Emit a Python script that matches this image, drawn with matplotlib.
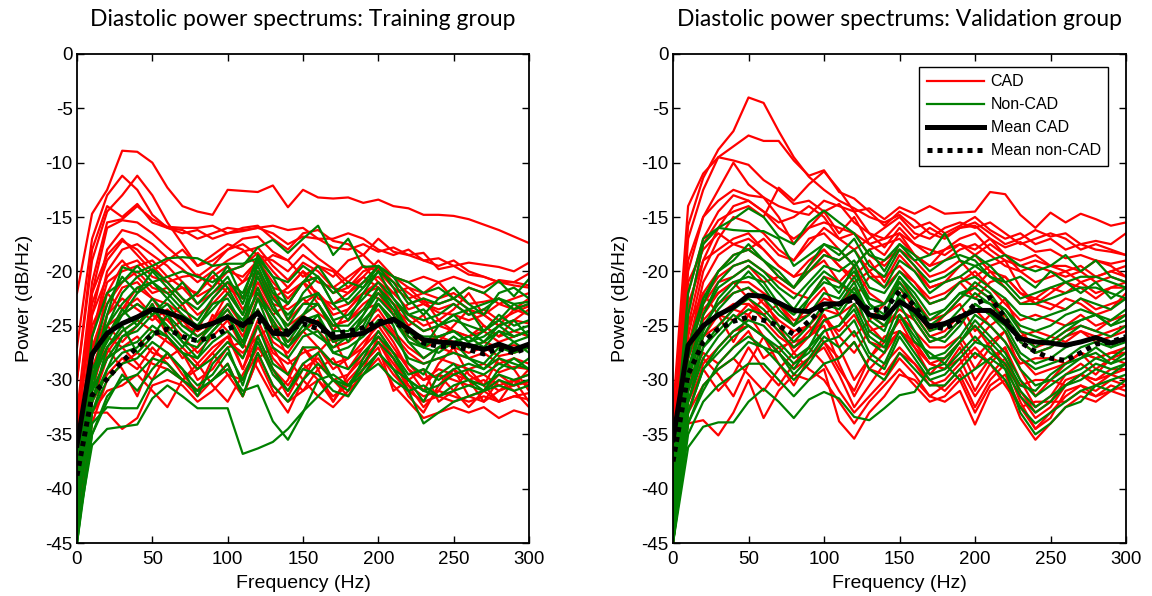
import matplotlib
matplotlib.use("Agg")
import matplotlib.pyplot as plt

plt.rcParams['axes.unicode_minus'] = False
plt.rcParams['font.family'] = ['Liberation Sans', 'DejaVu Sans']

freq = list(range(0, 301, 10))

train_cad = [
    [-22,-14.7,-12.5,-8.9,-9.0,-10,-12.3,-14,-14.5,-14.8,-12.5,-12.6,-12.7,-12.1,-14.1,-12.5,-13.2,-13.3,-13.2,-13.7,-13.4,-14,-14.2,-14.8,-14.8,-14.9,-15.2,-15.7,-16.2,-16.8,-17.4],
    [-27,-17,-13,-11.2,-12.5,-14.8,-16,-16.5,-16.2,-17,-16.5,-16.3,-16.0,-16.5,-17.5,-16.8,-17,-17.8,-18,-17.5,-18.2,-17.8,-18.5,-19,-18.8,-19.5,-19.2,-19.4,-19.6,-20,-19.2],
    [-30,-19,-14.5,-13,-11.2,-13,-15.5,-17.5,-19.5,-19,-18,-17.5,-18.5,-19,-20,-18.5,-19.5,-20.5,-19,-18.5,-19.8,-20.5,-21,-20.5,-21,-20.5,-21,-21.5,-20.8,-21,-21.3],
    [-33,-21,-15.5,-15.2,-14,-15.2,-15.9,-16,-16,-15.8,-16.5,-16,-15.8,-17,-18,-16.5,-16.2,-17.2,-17.5,-18.5,-17,-18.2,-18.5,-18.3,-19.8,-19.5,-20.3,-20.5,-21,-21.3,-21.5],
    [-35,-22,-16,-15.3,-15.5,-16.5,-17.8,-19,-20.5,-19.5,-18,-17,-16.8,-18.2,-19,-17.5,-18.8,-19.8,-21,-19.5,-20,-21.5,-22.5,-22,-22.5,-22,-23,-22.8,-22.5,-23.5,-23],
    [-38,-24,-18,-16.2,-16.6,-17.5,-18.8,-19.8,-21,-20,-19,-18.2,-17.8,-19.5,-20.8,-19.2,-20,-21.5,-22,-21,-20.5,-22,-23.5,-23,-23.8,-24,-24.5,-24,-25,-24.5,-24.8],
    [-40,-26,-20,-18,-17.5,-18.5,-19.5,-21,-22.3,-21.5,-20,-20.5,-19,-21,-22.5,-21,-22,-23.5,-23,-22,-22.5,-23.5,-24.5,-25.5,-25,-25.5,-26,-25.5,-26.5,-26,-25.5],
    [-36,-28,-22,-19.5,-19,-20.5,-21,-22.5,-24,-23,-21.5,-22.5,-20.5,-23,-23.5,-22.5,-23.8,-25,-24.5,-23.5,-23,-24.5,-26,-27,-26.5,-27,-27.5,-27,-27.8,-27.5,-27],
    [-41,-30,-24,-21.5,-21,-22.5,-23,-24,-25.5,-24.5,-23,-25,-22,-25,-25.5,-24,-25.5,-27,-26.5,-25.5,-24,-25.8,-27.5,-28.5,-28,-28.5,-29,-28.5,-29.3,-28.8,-29],
    [-42,-31,-26,-23.5,-22.5,-24,-24.5,-26,-27.5,-26,-24.5,-27,-23.5,-26.5,-27.5,-25.5,-27,-28.5,-28,-26.5,-25,-27,-29,-30,-29.5,-30,-30.5,-30,-31,-30.5,-30.2],
    [-43,-32,-27.5,-25.5,-24.5,-25.5,-26.5,-27.5,-29,-27.5,-26,-29,-25,-28,-29.5,-27,-28.5,-30,-29.5,-28,-26.5,-28.5,-30.5,-31.5,-31,-31.5,-32,-31.5,-32,-31.5,-31.8],
    [-44,-34,-30,-28.5,-27.5,-28.5,-29,-30,-31.5,-30,-28.5,-31.5,-28,-31,-33,-30,-31.5,-32.5,-31,-29.5,-28,-30.5,-32,-33.5,-33,-32.5,-33,-32.5,-33.5,-32.8,-33.2],
    [-30,-18,-14,-15,-13.8,-15.5,-16,-16.2,-17,-16.5,-16,-16.2,-16,-15.8,-16.2,-16,-17,-17,-16.5,-17,-18,-18.5,-18,-19,-19.5,-19,-20,-20.5,-21,-21,-20.2],
    [-34,-23,-19,-17.2,-18,-19.5,-21,-20.5,-20.3,-21.5,-20,-19.5,-18.3,-20,-21.5,-20,-21,-21.5,-20.5,-19.5,-21,-22,-21.5,-22.8,-23,-22.5,-23.5,-24,-23,-23.5,-24],
    [-38,-27,-23,-21,-20,-21.5,-22,-21.5,-23,-22,-21,-22.5,-20,-22,-24.5,-23,-22,-24,-23.5,-22,-21.5,-23,-24,-25,-24.5,-25.5,-26,-25,-26,-25.5,-26],
    [-40,-29,-25,-24,-23,-24,-25.5,-24.5,-26,-25,-23.5,-26,-22.5,-24.5,-26.5,-25.5,-24.5,-26.5,-26,-24.5,-23.5,-25.5,-27,-28,-27,-27.5,-28,-27.5,-28.5,-28,-28.5],
    [-42,-32,-28,-27,-26,-27.5,-28,-27,-28.5,-27,-26,-28,-24.5,-27.5,-28.5,-27.5,-27,-29,-28,-27,-25.5,-27.5,-28.5,-30,-29,-29.5,-30,-29.5,-30.5,-30,-30.5],
    [-44,-33,-33,-34.5,-33.5,-30.5,-30,-30.5,-32,-31,-29.5,-30,-27.5,-30.5,-32,-31,-30,-31.5,-30.5,-29,-27.5,-29.5,-31,-32,-31.5,-32,-31.5,-31,-32,-31.5,-31.2],
    [-39,-26,-21,-20,-19.5,-19,-20.5,-21.5,-22,-20.5,-19.5,-21,-19,-21.5,-22,-21,-20.5,-22,-21.5,-20,-19.5,-21,-22,-23,-23.5,-23,-24,-23.5,-24.5,-23.8,-23.2],
    [-41,-28,-24,-22.5,-23.5,-24.5,-23.5,-25,-25.5,-24.5,-22,-24,-21,-23.5,-25,-24,-23,-25,-24.5,-23,-22,-24,-25.5,-26.5,-26,-26.5,-27,-26.5,-27,-26.8,-27],
    [-37,-27,-25,-26.5,-25,-23,-26,-28,-27,-24,-25.5,-29,-26,-25,-28,-30,-27.5,-26,-29,-27,-24.5,-26.5,-29,-31,-28.5,-27,-29.5,-30.5,-28,-29,-31],
    [-43,-30,-27,-29,-31.5,-28,-26,-27.5,-30,-29,-27,-26.5,-29,-31.5,-30,-27,-29,-32,-30,-28.5,-27,-31,-30,-29,-32,-31,-29,-30.5,-32,-30,-29.5],
    [-39,-25,-22,-23.5,-21.5,-22.5,-24.5,-23,-25.5,-22.5,-21,-23.5,-21.5,-24,-23,-21,-23,-25.5,-23.5,-22,-21,-23,-25,-24,-26.5,-25,-23.5,-25,-26,-24.5,-23.5],
    [-41,-29,-26,-27,-28.5,-30,-27.5,-29.5,-31,-28,-26.5,-27.5,-26,-29,-31.5,-29,-28,-30,-31.5,-29,-26,-28,-30.5,-32.5,-31,-29,-30,-32,-31,-30,-32],
    [-34,-24,-20.5,-19,-20.5,-22,-21.5,-23,-22,-20.5,-22,-21,-20,-22.5,-21.5,-20,-22.5,-23,-22,-20.5,-21.5,-24,-23,-22.5,-24.5,-23.5,-22,-24,-25,-23.5,-22.5],
    [-42,-32,-29.5,-28,-29,-27,-28.5,-30,-29,-27.5,-29.5,-31.5,-28,-27,-29.5,-31,-29,-28,-30.5,-28.5,-26.5,-29,-31.5,-33,-30.5,-29,-31.5,-32,-30,-31,-32.5],
    [-36,-22,-18.5,-17,-18.5,-20,-19,-18,-19.5,-18.5,-17.5,-18,-19.5,-18.5,-19,-20.5,-19.5,-20,-21.5,-20.5,-19,-20.5,-21.5,-22,-21,-22.5,-21.5,-22,-23,-22.5,-22],
    [-44,-33,-31,-30.5,-29.5,-31,-32.5,-30,-28.5,-30.5,-32,-29.5,-27,-29,-30.5,-28.5,-30,-32,-29.5,-27.5,-26,-28,-31,-32,-29.5,-31,-32.5,-31,-29.5,-30.5,-29],
]

train_noncad = [
    [-36,-30,-26,-24,-22,-21,-20.5,-20,-20.5,-21,-20,-19.5,-17.8,-17.1,-18.3,-17,-15.8,-18.5,-17,-19.6,-19.5,-20.5,-21,-22,-21.5,-22.5,-21.5,-22,-20.9,-22.3,-20.7],
    [-38,-30,-24,-19.6,-20.1,-19.5,-18.8,-18.7,-18.8,-19.5,-19.3,-19.3,-18.8,-20.5,-21,-19.5,-20.5,-22,-21,-21.5,-20,-21,-23,-22.5,-23,-22.5,-23.5,-23,-22.5,-23,-22.8],
    [-44,-36,-34.5,-34.3,-34.1,-31.7,-30.5,-31.5,-32.6,-32.6,-32.6,-36.8,-36.3,-35.7,-34.5,-32.9,-31.5,-30,-30.5,-29.5,-28.5,-30,-31,-34,-33,-32,-31.5,-31,-30.5,-31,-30.5],
    [-45,-34,-32.5,-32.6,-32.6,-30,-29,-30,-31,-30,-29,-31,-30.5,-33.8,-35.5,-33,-30,-29.5,-30.5,-29,-27.5,-29,-30,-31,-31.5,-31,-30.5,-31,-30,-30.5,-30],
    [-42,-31,-28,-27,-26.5,-25,-26,-27.5,-29,-28,-26.5,-28,-25,-28.5,-29.5,-27,-27,-28.5,-29,-27.5,-26,-27.5,-29.5,-29,-30,-29,-28.5,-29,-28,-28.5,-29],
    [-40,-30,-27,-25.5,-24.5,-22.5,-24,-25.5,-26.5,-25,-23.5,-25.5,-21.5,-25,-26.5,-24.5,-24,-26.5,-26,-25,-22.5,-24,-26.5,-27,-27.5,-26.5,-26,-27,-25.5,-26.5,-26],
    [-43,-31,-25,-22,-20.5,-19.8,-21,-22.5,-23.5,-22,-20.5,-23,-19.5,-22.5,-24,-22.5,-22,-24.5,-24,-22.5,-21,-22.5,-24.5,-25.5,-25,-24.5,-25,-25.5,-24,-25,-24.5],
    [-41,-33,-30,-28.5,-28,-26.5,-27.5,-29,-30.5,-29.5,-27.5,-30,-26.5,-29.5,-31,-29,-29.5,-31,-31.5,-29.5,-27.5,-29,-31,-30.5,-31.5,-30.5,-30,-30.5,-29.5,-30,-29.5],
    [-39,-29,-26.5,-24,-23,-24,-22.5,-24,-25,-23.5,-22,-24,-20.5,-23.5,-25,-23,-23,-25,-25,-23.5,-21.5,-23,-25.5,-26,-26,-25.5,-26.5,-26,-25,-26,-25.5],
    [-44,-35,-31.5,-30,-29.5,-28,-28.5,-30,-31,-30,-28.5,-31.5,-27.5,-30.5,-32,-30,-28.5,-30,-30.5,-28.5,-26.5,-28,-30,-31,-30.5,-29.5,-29,-29.5,-28.5,-29,-28],
    [-37,-28,-25,-23,-21.5,-21,-22,-23.5,-24.5,-22.5,-21,-22,-19,-22,-23,-21,-20.5,-23,-22.5,-21,-19.5,-21.5,-24,-24.5,-24,-23,-24,-23.5,-22.5,-23.5,-23],
    [-42,-32,-29,-27.5,-27,-25.5,-26,-27.5,-28,-26.5,-25.5,-27,-23.5,-27,-28,-26,-25.5,-27.5,-27,-26,-24.5,-26,-28,-28.5,-28,-27.5,-28,-28.5,-27,-27.5,-27],
    [-45,-33,-29,-26,-25,-23.5,-25,-26.5,-27,-25.5,-24,-26.5,-22.5,-26,-27,-25,-26,-27,-26,-24.5,-23,-24.5,-26.5,-28,-27,-26,-27,-26.5,-25.5,-26,-25.5],
    [-38,-31,-28,-26,-25.5,-24,-23,-25,-26,-25,-23,-24.5,-22,-24,-26,-24,-23,-25.5,-25.5,-24,-22,-23.5,-25.5,-27,-26,-25.5,-26.5,-25.5,-24.5,-25.5,-25],
    [-41,-28,-23,-20.5,-22,-20,-21.5,-23,-22,-20,-21.5,-24,-19,-21.5,-24.5,-22,-20.5,-23,-24.5,-22,-20,-22.5,-24,-23.5,-25,-24,-23.5,-25.5,-24.5,-23,-24],
    [-43,-32,-27,-25,-27.5,-26,-24,-26.5,-28,-25.5,-24,-27,-22.5,-24.5,-27,-25.5,-24,-27.5,-28,-25.5,-23,-25,-28.5,-29.5,-27,-26.5,-28,-29,-27.5,-26.5,-27.5],
    [-45,-35,-32,-29.5,-31,-29,-27.5,-29,-31.5,-28.5,-27,-30.5,-26,-29,-31,-28.5,-27.5,-30,-31,-28,-25.5,-27.5,-30,-32,-29.5,-28.5,-30,-31,-29,-28,-29],
    [-39,-26,-22,-21,-19.5,-21,-22.5,-21,-23,-21.5,-19.5,-22.5,-18.5,-20.5,-23,-21,-19.5,-21.5,-23,-21.5,-19.5,-20.5,-22.5,-24,-22.5,-21.5,-23,-24,-22,-21.5,-22.5],
    [-42,-30,-26,-23.5,-25,-23,-25.5,-27,-25,-23,-22.5,-25,-20,-23,-25.5,-24,-22,-24.5,-26.5,-24,-21.5,-23.5,-26,-27,-25,-24,-25.5,-26.5,-25,-24.5,-26],
]

train_mean_cad = [-36,-27.6,-25.7,-24.8,-24.2,-23.5,-23.8,-24.3,-25.2,-24.8,-24.2,-25,-23.8,-25.7,-25.8,-24.3,-24.8,-26.1,-25.9,-25.7,-24.9,-24.4,-25.3,-26.3,-26.5,-26.6,-26.8,-27.2,-26.7,-27.2,-26.7]
train_mean_noncad = [-38.8,-31.4,-29.9,-28.3,-27,-25.8,-25.3,-26,-26.4,-26,-25.3,-24.8,-24.5,-25.5,-25.5,-24.8,-25.3,-25.8,-25.5,-25.2,-24.6,-24.6,-25.5,-26.6,-26.9,-26.9,-27.2,-27.6,-27.1,-27.5,-27]

valid_cad = [
    [-35,-15.8,-11.4,-8.8,-7.1,-4.0,-4.5,-7.1,-9.5,-11.3,-12.5,-13.5,-14.2,-15,-15.5,-14.8,-16,-15.5,-16.5,-15.8,-15,-16.2,-17,-16.5,-17.5,-17,-18,-17.5,-18,-18.2,-18.5],
    [-33,-14,-11,-9.5,-8.5,-7.5,-8,-8,-9.8,-11.2,-10.7,-12.7,-13.3,-14.5,-15.8,-14.5,-15.3,-16.5,-17,-16,-15.8,-17,-17.8,-17.3,-18.2,-18,-18.8,-18.5,-19,-19.3,-19],
    [-38,-17,-12.5,-9.5,-9.8,-10.2,-11.6,-12.5,-13.8,-13.5,-14.5,-13.8,-15.5,-16.5,-17,-15.5,-17,-16,-16.8,-16,-15.5,-16.5,-17.5,-17,-16.2,-16.8,-16.5,-17.5,-17.2,-17.5,-16.5],
    [-36,-19,-15,-13.5,-12.5,-13,-13.2,-14,-14.5,-14.8,-13.5,-14,-14.5,-14.2,-15.2,-14.1,-14.7,-14,-14.7,-14.6,-14.5,-12.7,-12.9,-14.8,-16,-14.6,-15.5,-14.7,-15.2,-15.8,-15.5],
    [-40,-20,-15,-12.5,-10,-12,-13.2,-15,-17.5,-16,-14.5,-16.5,-15,-17.5,-18.5,-16.5,-18.5,-19.5,-19,-18,-17.5,-18.5,-19.5,-20,-19.5,-20,-20.5,-20,-21,-20.5,-21],
    [-41,-24,-17.5,-15.3,-14.5,-14,-15,-12.3,-13.5,-12,-10.8,-12.5,-14.5,-16.5,-17.8,-16,-17.5,-18.5,-18,-17,-16.5,-18,-19,-19.5,-19,-19.5,-20,-19.5,-20.5,-20,-20.5],
    [-42,-26,-20,-17,-15,-15.5,-16.5,-18,-19,-17.5,-16,-17,-16.5,-18.5,-19.5,-18,-19.5,-21.5,-21,-19.5,-18.5,-20,-21.5,-23,-22.5,-23,-23.5,-22.5,-23.5,-23,-22.5],
    [-43,-27,-21,-18.5,-17.5,-17,-18,-19.5,-20.5,-20,-18.5,-19,-18,-20,-21.5,-20,-21,-23,-22.5,-21,-20,-21.5,-23,-24.5,-24,-24.5,-25,-24,-25,-24.5,-24],
    [-44,-28,-22.5,-20.5,-19.5,-19,-20,-21,-22,-22.5,-20.5,-21,-19.5,-22,-23,-21,-22.5,-24.5,-24,-22.5,-21.5,-22.5,-24.5,-26,-25.5,-26,-26.5,-25.5,-26,-25.5,-25],
    [-44,-30,-24,-22,-21,-21,-22,-23,-24.5,-24,-22.5,-23,-21.5,-24,-25,-23.5,-24.5,-26.5,-26,-24.5,-23.5,-25,-26.5,-28.5,-28,-28,-28.5,-27.5,-28,-27.5,-27.5],
    [-45,-31,-26,-24,-23,-23,-24,-25.5,-27,-26,-24.5,-25.5,-24,-26.5,-27,-25.5,-26.5,-28.5,-28,-26.5,-25,-27,-28.5,-30.5,-30,-30,-30.5,-29.5,-30,-29.5,-29],
    [-45,-33,-28.5,-27,-25.5,-25,-26,-27.5,-29,-28,-26.5,-28,-26.5,-29,-29.5,-27.5,-28.5,-30.5,-30,-28.5,-27,-28.5,-30.5,-32.5,-32,-32,-32,-31,-31.5,-31,-30.5],
    [-44,-34,-33.7,-35.1,-33,-30,-33.5,-31,-29.5,-30,-29,-33.8,-35.4,-33,-31.5,-29.5,-30,-31.5,-32,-31,-34.1,-31,-30,-33.5,-35.5,-34,-32.5,-31.5,-32,-31,-31.5],
    [-42,-30,-27.5,-28.5,-27,-25.5,-28,-27,-26.5,-26,-25,-28.5,-31.5,-29,-27.5,-25.5,-26.5,-28.5,-29,-28,-31,-28.5,-27,-31.5,-33.5,-32.5,-30.5,-29.5,-30,-29,-29],
    [-39,-27,-23,-21,-20.5,-19.5,-21,-20.5,-21.5,-20,-19,-21,-22.5,-20.5,-20.5,-19.5,-21,-22.5,-22,-21,-22.5,-21,-20.5,-22,-23,-23.5,-22.5,-23,-24,-23.5,-22],
    [-40,-25,-19,-16,-14,-13.5,-14.5,-16,-17,-16,-15.5,-16,-16.5,-17.5,-17,-16.5,-17.5,-18,-18.5,-17.5,-18,-17,-18.5,-19,-18.5,-19.5,-19.5,-20,-19,-19.5,-20.5],
    [-43,-29,-25,-24,-24.5,-23,-24.5,-26,-27,-25.5,-24,-26,-27.5,-25.5,-25,-24,-25.5,-27,-27,-26,-28,-26.5,-25.5,-28,-29.5,-29,-28.5,-27.5,-28,-27.5,-27],
    [-41,-28,-24.5,-23,-22,-21.5,-23,-24.5,-25.5,-25,-23.5,-24,-23,-25,-26.5,-24.5,-24,-26,-25.5,-24,-26.5,-25,-24,-26.5,-27.5,-27,-26,-25.5,-26.5,-26,-25.5],
    [-38,-22,-17,-14.5,-13,-13.5,-14.5,-15.5,-15,-14,-15,-17,-18,-17,-16,-15,-16.5,-17,-16,-15.5,-16,-15.5,-16.5,-17.5,-17,-16.5,-17,-18,-17.5,-18,-18.5],
    [-42,-27,-22,-20,-18.5,-18,-19,-20.5,-21.5,-19.5,-18,-19.5,-20.5,-19,-21,-18.5,-20,-21.5,-21,-20.5,-21.5,-20,-20.5,-22,-22.5,-21.5,-22,-21,-22,-21.5,-21.5],
    [-38,-25,-22,-24,-26.5,-24,-22.5,-25,-27.5,-26,-24,-27,-30,-28,-26.5,-24.5,-27,-29.5,-28,-26.5,-29,-27,-25.5,-29,-31.5,-30,-28.5,-27.5,-29,-28,-27.5],
    [-43,-31,-28,-29.5,-31.5,-28.5,-26,-28.5,-30.5,-28,-27,-29.5,-32.5,-30.5,-28.5,-27,-28.5,-30,-31,-29.5,-32.5,-30,-28.5,-32,-34.5,-33,-31.5,-30.5,-31,-30,-30.5],
    [-40,-27,-23.5,-22,-21,-22.5,-24,-23,-25,-23,-21.5,-24,-26,-24.5,-23,-21.5,-23.5,-25.5,-24,-23,-25.5,-24,-22.5,-25.5,-27,-26.5,-25.5,-25,-25.5,-24.5,-24],
    [-44,-32,-29,-31,-29.5,-27,-29,-30.5,-28.5,-27,-28.5,-31,-33,-31.5,-30,-28,-29.5,-31.5,-30.5,-29,-31.5,-29.5,-28,-31,-33,-32,-30,-29.5,-30.5,-29.5,-30],
    [-37,-21,-18,-16.5,-17.5,-18,-17,-18.5,-19,-17,-16.5,-18,-19.5,-18,-17.5,-17,-18.5,-19.5,-18,-17.5,-18.5,-17.5,-18.5,-20,-21,-20.5,-20,-21,-20.5,-20,-19.5],
    [-41,-29,-26,-25,-23.5,-24,-26,-27.5,-26,-25,-26.5,-29,-31,-28,-26,-25.5,-27,-28.5,-29,-27,-30,-28,-27,-30,-32.5,-31.5,-29.5,-28.5,-29.5,-28,-28.5],
    [-45,-33,-30.5,-29,-28,-29.5,-31,-29,-27.5,-29,-30,-32,-34,-32,-30.5,-29,-30.5,-32,-31.5,-30,-33,-30.5,-29.5,-32.5,-34.5,-33.5,-31,-30.5,-31.5,-30.5,-31],
    [-39,-23,-19,-18,-17,-16.5,-18,-19.5,-20.5,-19,-18,-19.5,-21,-20,-19,-18,-19,-20.5,-20,-19,-20.5,-19.5,-19,-21.5,-23,-22,-21,-21.5,-22.5,-21.5,-21],
]

valid_noncad = [
    [-45,-36.2,-34.3,-33.9,-33.9,-32,-30.8,-32,-33.5,-31.8,-31.1,-31.7,-33.4,-33.7,-32.6,-31.4,-31.1,-29,-28.5,-30,-29,-28,-29,-33,-35,-34,-32.5,-32,-30.5,-30,-29.5],
    [-40,-24,-17.5,-16,-15.2,-14.2,-15,-16.8,-17.5,-15.5,-14.4,-15.5,-16.5,-18.5,-19,-17.5,-18.5,-20,-19,-18.5,-19,-20.5,-21,-20.5,-21.5,-20,-21,-22,-21,-22.5,-21.5],
    [-38,-22,-17,-16,-16.2,-16.3,-16.3,-17,-19.5,-18.5,-17.5,-18,-19.5,-18,-20,-17.5,-19,-18.5,-16.5,-19,-19.5,-19,-18.5,-19.5,-20,-19.5,-18.5,-20,-19,-20.5,-21],
    [-44,-30,-24,-21.5,-20.5,-19.5,-20.5,-22,-23.5,-21.5,-20,-21,-22,-23.5,-23,-21.5,-23,-24.5,-23.5,-22,-22.5,-23,-23.5,-25.5,-26,-26.5,-25.5,-24.5,-24,-25,-24],
    [-42,-32,-27,-25,-23.5,-22.5,-23.5,-25,-26.5,-25,-23,-23.5,-21.5,-24.5,-25.5,-22,-24.5,-26.5,-26,-24.5,-23,-24,-25,-27.5,-28.5,-28,-27,-26.5,-26,-27,-26],
    [-45,-33,-29,-27,-25.5,-24.5,-25,-26.5,-28,-27,-24.5,-24,-22,-25.5,-26.5,-23,-25.5,-28,-27.5,-26,-24,-25,-26.5,-29,-30.5,-30,-29,-28,-27.5,-28.5,-27.5],
    [-43,-31,-26,-23.5,-22,-21.5,-22.5,-24,-25,-24,-22,-22.5,-20.5,-23,-24,-21,-23,-25.5,-25,-23.5,-22,-23,-24.5,-26.5,-27.5,-27,-26,-25,-25.5,-26,-25],
    [-44,-34,-30.5,-29,-28,-26.5,-27,-28.5,-30,-28.5,-26.5,-26,-24.5,-27.5,-28.5,-25.5,-27.5,-29.5,-29,-27.5,-26,-27.5,-28.5,-31,-32.5,-31.5,-30.5,-30,-29,-29.5,-28.5],
    [-41,-29,-24,-21,-19.5,-19,-20,-21.5,-22.5,-21,-19.5,-20,-19,-21.5,-22,-20,-21.5,-23,-22.5,-21,-20.5,-21.5,-22.5,-24,-24.5,-24,-23.5,-22.5,-23,-23.5,-22.5],
    [-45,-35,-32,-30.5,-29.5,-28.5,-28.5,-30,-31.5,-30,-28.5,-28,-26.5,-29,-30,-27.5,-29,-30.5,-30.5,-29,-27.5,-28.5,-30,-32.5,-34,-33,-32,-31,-30.5,-31,-30],
    [-42,-30,-25.5,-22.5,-21,-20.5,-21,-23,-24,-22.5,-21,-21.5,-20,-22.5,-23,-20.5,-22,-24,-23.5,-22,-21.5,-22.5,-23.5,-25,-25.5,-25,-24,-23.5,-24,-24.5,-23.5],
    [-44,-32,-28,-26,-24.5,-23.5,-24,-25.5,-27,-26,-23.5,-23,-21,-24,-25,-22.5,-24,-26,-26.5,-25,-23,-24,-25.5,-28,-29,-28.5,-28,-27,-26.5,-27,-26.5],
    [-40,-28,-23,-20,-18.5,-18,-19,-20,-21.5,-20,-18.5,-19,-18,-20.5,-21.5,-19,-20,-22,-21,-20.5,-19.5,-20.5,-21.5,-23,-23,-22.5,-22,-21.5,-21.5,-22,-22.5],
    [-43,-33,-29,-27.5,-26,-25,-26,-27,-28.5,-27.5,-25.5,-25,-23,-26,-27,-24,-26,-28,-28,-26.5,-24.5,-26,-27.5,-30,-31.5,-30.5,-29.5,-29,-28,-28.5,-28],
    [-42,-29,-25,-23,-21.5,-20,-21.5,-23.5,-25,-22.5,-20.5,-22,-19.5,-23,-24.5,-20.5,-22.5,-25,-24,-22.5,-21,-22,-24,-26,-27,-26,-25,-24.5,-24,-25,-24.5],
    [-44,-31,-27,-25.5,-24,-25,-26,-27.5,-29,-27,-25.5,-25,-23.5,-26.5,-27.5,-24,-26.5,-27.5,-28.5,-26.5,-25,-26.5,-28,-30.5,-31,-29.5,-28.5,-28,-27,-28,-27],
    [-41,-27,-22.5,-20,-19,-17.5,-19,-20.5,-21.5,-19.5,-17.5,-18.5,-17,-19.5,-20.5,-18,-19.5,-21,-20.5,-19.5,-18.5,-19.5,-21,-22.5,-22,-21.5,-21,-20.5,-20.5,-21,-21.5],
    [-45,-34,-31,-28.5,-27,-26,-27,-27.5,-29.5,-28,-26,-27,-25.5,-28,-29,-26,-28,-30,-29.5,-28,-26.5,-27,-29,-31.5,-33,-32,-30.5,-29.5,-28.5,-29,-28.5],
]

valid_mean_cad = [-35.5,-26.8,-25,-24,-23.3,-22.2,-22.3,-22.9,-23.6,-23.7,-23,-23,-22.3,-24,-24.3,-22.8,-23.6,-25.1,-24.8,-24.2,-23.6,-23.6,-24.7,-26.2,-26.5,-26.6,-26.8,-26.5,-26.1,-26.6,-26.2]
valid_mean_noncad = [-37.5,-29.5,-26.5,-25.3,-24.6,-24.2,-24.5,-25,-25.8,-24.6,-23.3,-23,-22.6,-23.5,-23.6,-21.8,-23.2,-25,-25.3,-24.5,-23,-22.4,-24.3,-26.5,-27.4,-28,-28.2,-27.5,-26.7,-26.5,-26]

titles = ["Diastolic power spectrums: Training group",
          "Diastolic power spectrums: Validation group"]
legend_labels = ["CAD", "Non-CAD", "Mean CAD", "Mean non-CAD"]

RED = "#ff0000"
GREEN = "#008000"

fig = plt.figure(figsize=(11.52, 5.96), dpi=100)
W, H = 1152, 596
TOP, BOT = 54, 543
ax1 = fig.add_axes([77 / W, 1 - BOT / H, (529 - 77) / W, (BOT - TOP) / H])
ax2 = fig.add_axes([673 / W, 1 - BOT / H, (1126 - 673) / W, (BOT - TOP) / H])

panels = [
    (ax1, train_cad, train_noncad, train_mean_cad, train_mean_noncad, titles[0]),
    (ax2, valid_cad, valid_noncad, valid_mean_cad, valid_mean_noncad, titles[1]),
]

for i, (ax, cad, noncad, mcad, mnon, title) in enumerate(panels):
    hc = hn = None
    for s in cad:
        hc, = ax.plot(freq, s, color=RED, lw=1.6)
    for s in noncad:
        hn, = ax.plot(freq, s, color=GREEN, lw=1.6)
    hm, = ax.plot(freq, mcad, color='black', lw=3.6)
    hd, = ax.plot(freq, mnon, color='black', lw=3.6, linestyle=(0, (1, 1)),
                  dash_capstyle='butt')
    ax.set_xlim(0, 300)
    ax.set_ylim(-45, 0)
    ax.set_xticks(range(0, 301, 50))
    ax.set_yticks(range(-45, 1, 5))
    ax.tick_params(direction='in', length=5, width=1, top=True, right=True,
                   labelsize=13.5, colors='black')
    ax.tick_params(axis='x', pad=6)
    ax.tick_params(axis='y', pad=3)
    for sp in ax.spines.values():
        sp.set_linewidth(1.3)
        sp.set_color('black')
    ax.set_xlabel("Frequency (Hz)", fontsize=14, labelpad=5)
    ax.set_ylabel("Power (dB/Hz)", fontsize=14, labelpad=9)
    ax.set_title(title, fontsize=16.5, pad=20, family=['Lato', 'DejaVu Sans'])
    if i == 1:
        leg = ax.legend([hc, hn, hm, hd], legend_labels, loc='upper right',
                        bbox_to_anchor=(0.96, 0.973), borderaxespad=0,
                        fontsize=11.5, fancybox=False, framealpha=1,
                        edgecolor='black', handlelength=3.6, handletextpad=0.4,
                        labelspacing=0.5, borderpad=0.45)
        leg.get_frame().set_linewidth(1.0)

fig.savefig("out.png", dpi=100)
